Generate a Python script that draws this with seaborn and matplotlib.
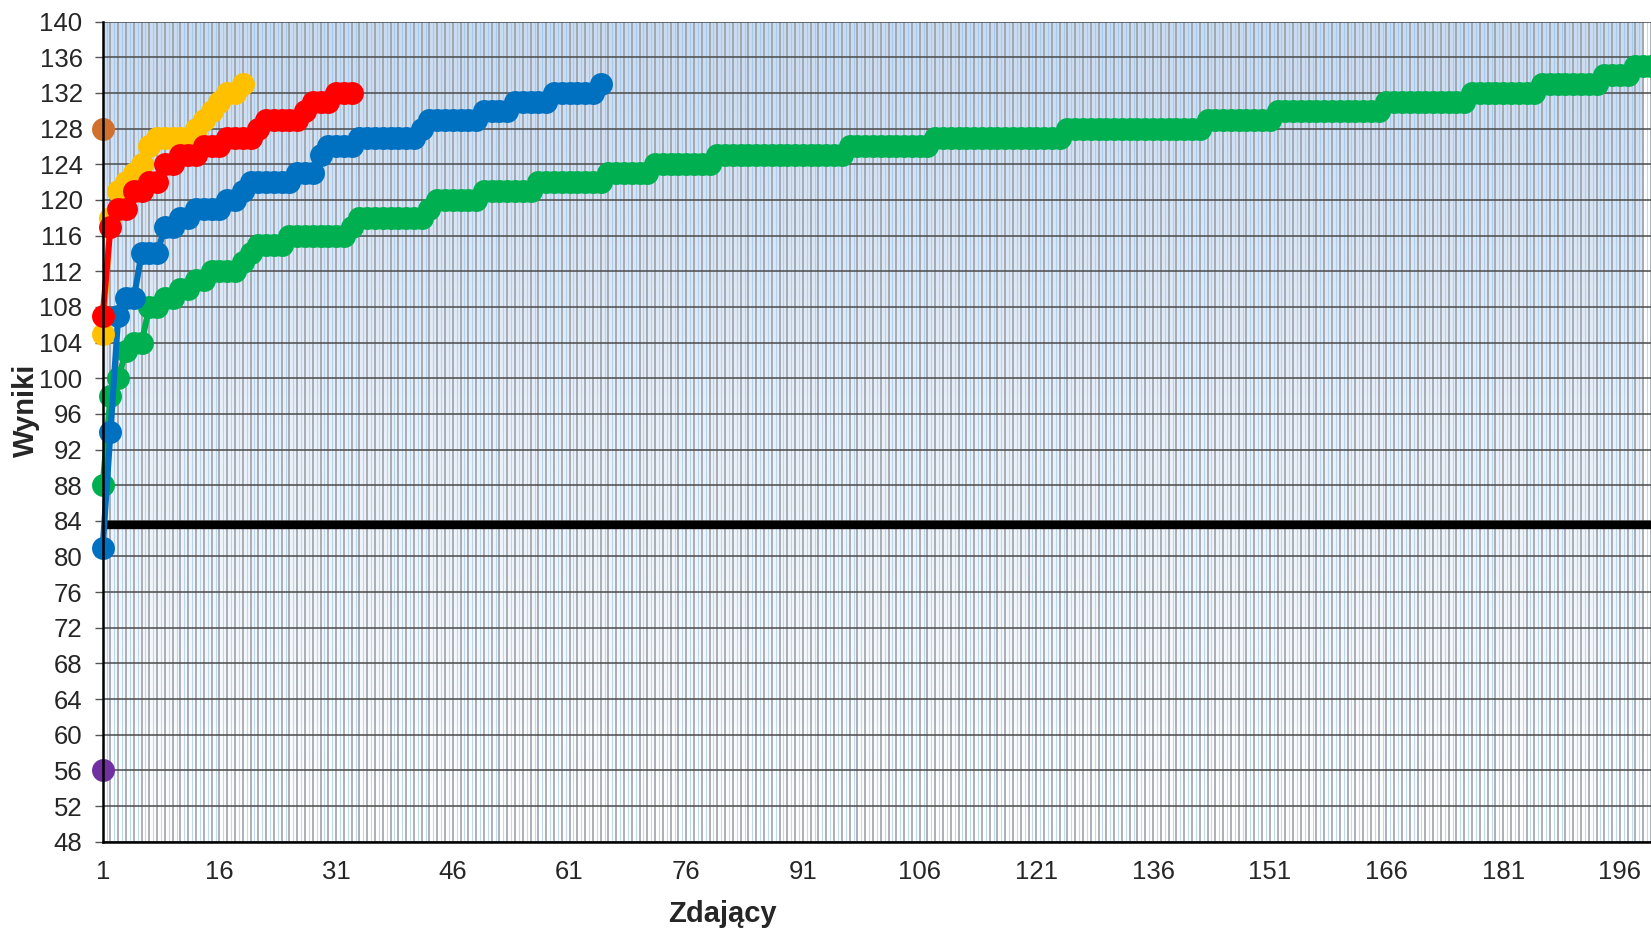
import numpy as np
import pandas as pd
import matplotlib
matplotlib.use('Agg')
import matplotlib.pyplot as plt
from matplotlib.colors import LinearSegmentedColormap
import seaborn as sns

# Sorted scores of each group of test takers
wyniki_zielone = [
    88, 98, 100, 103, 104, 104, 108, 108, 109, 109, 110, 110, 111, 111, 112, 112, 112, 112, 113, 114,
    115, 115, 115, 115, 116, 116, 116, 116, 116, 116, 116, 116, 117, 118, 118, 118, 118, 118, 118, 118,
    118, 118, 119, 120, 120, 120, 120, 120, 120, 121, 121, 121, 121, 121, 121, 121, 122, 122, 122, 122,
    122, 122, 122, 122, 122, 123, 123, 123, 123, 123, 123, 124, 124, 124, 124, 124, 124, 124, 124, 125,
    125, 125, 125, 125, 125, 125, 125, 125, 125, 125, 125, 125, 125, 125, 125, 125, 126, 126, 126, 126,
    126, 126, 126, 126, 126, 126, 126, 127, 127, 127, 127, 127, 127, 127, 127, 127, 127, 127, 127, 127,
    127, 127, 127, 127, 128, 128, 128, 128, 128, 128, 128, 128, 128, 128, 128, 128, 128, 128, 128, 128,
    128, 128, 129, 129, 129, 129, 129, 129, 129, 129, 129, 130, 130, 130, 130, 130, 130, 130, 130, 130,
    130, 130, 130, 130, 130, 131, 131, 131, 131, 131, 131, 131, 131, 131, 131, 131, 132, 132, 132, 132,
    132, 132, 132, 132, 132, 133, 133, 133, 133, 133, 133, 133, 133, 134, 134, 134, 134, 135, 135, 135,
]
wyniki_niebieskie = [
    81, 94, 107, 109, 109, 114, 114, 114, 117, 117, 118, 118, 119, 119, 119, 119, 120, 120, 121, 122,
    122, 122, 122, 122, 122, 123, 123, 123, 125, 126, 126, 126, 126, 127, 127, 127, 127, 127, 127, 127,
    127, 128, 129, 129, 129, 129, 129, 129, 129, 130, 130, 130, 130, 131, 131, 131, 131, 131, 132, 132,
    132, 132, 132, 132, 133,
]
wyniki_zolte = [105, 118, 121, 122, 123, 124, 126, 127, 127, 127, 127, 127, 128, 129, 130, 131, 132, 132, 133]
wyniki_czerwone = [
    107, 117, 119, 119, 121, 121, 122, 122, 124, 124, 125, 125, 125, 126, 126, 126, 127, 127, 127, 127,
    128, 129, 129, 129, 129, 129, 130, 131, 131, 131, 132, 132, 132,
]
wyniki_pomaranczowe = [128]
wyniki_fioletowe = [56]
prog = 83.5

serie = ['zielona', 'niebieska', 'żółta', 'czerwona', 'pomarańczowa', 'fioletowa']
kolory = ['#00B050', '#0070C0', '#FFC000', '#FF0000', '#D0702F', '#7030A0']
dane = [wyniki_zielone, wyniki_niebieskie, wyniki_zolte, wyniki_czerwone,
        wyniki_pomaranczowe, wyniki_fioletowe]

df = pd.concat([
    pd.DataFrame({'Zdający': np.arange(1, len(w) + 1), 'Wyniki': w, 'seria': s})
    for s, w in zip(serie, dane)
], ignore_index=True)

sns.set_style('white')
plt.rcParams['font.family'] = ['Liberation Sans', 'DejaVu Sans']

fig = plt.figure(figsize=(16.51, 9.31), dpi=100)
ax = fig.add_axes([0.0622, 0.0959, 0.9378, 0.8808])

x_max = 199
# gradient background of the plot area
tlo = LinearSegmentedColormap.from_list('tlo', ['#ffffff', '#eaf1fa', '#c8dbf1'])
ax.imshow(np.linspace(0, 1, 256).reshape(-1, 1), cmap=tlo, origin='lower',
          extent=[1, x_max, 48, 140], aspect='auto', zorder=0)
ax.vlines(np.arange(1.5, 200, 1), 48, 140, color='#8fbce6', lw=0.8, alpha=0.55, zorder=0.3)

ax.axhline(prog, color='black', lw=6, zorder=1.5)

sns.lineplot(data=df, x='Zdający', y='Wyniki', hue='seria', hue_order=serie,
             palette=kolory, marker='o', markersize=16.5, markeredgewidth=0,
             linewidth=4.4, estimator=None, legend=False, clip_on=False, ax=ax)

ax.set_xlim(1, x_max)
ax.set_ylim(48, 140)
ax.set_xticks(np.arange(1, 200, 15))
ax.set_xticks(np.arange(1, 201), minor=True)
ax.set_yticks(np.arange(48, 141, 4))

ax.set_axisbelow(True)
ax.grid(axis='x', which='both', color='#969aa1', lw=1.1)
ax.grid(axis='y', which='major', color='#4a4a4a', lw=1.1)

ax.tick_params(axis='x', which='both', direction='in', length=6, width=1, color='#333333',
               labelsize=18.5, pad=13)
ax.tick_params(axis='y', direction='out', length=5.5, width=1, color='#555555',
               labelsize=18.5, pad=9, left=True)

for side in ['top', 'right']:
    ax.spines[side].set_visible(False)
for side in ['left', 'bottom']:
    ax.spines[side].set_color('black')
    ax.spines[side].set_linewidth(1.8)
    ax.spines[side].set_zorder(3)

ax.set_xlabel('Zdający', fontsize=21, fontweight='bold')
ax.set_ylabel('Wyniki', fontsize=21, fontweight='bold')
ax.xaxis.set_label_coords(0.40, -0.088)
ax.yaxis.set_label_coords(-0.0495, 0.526)
ax.xaxis.label.set_va('center')
ax.yaxis.label.set_va('center')

fig.savefig('out.png', dpi=100)
